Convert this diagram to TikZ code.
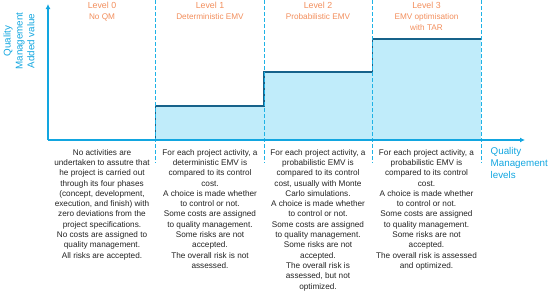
\documentclass[tikz,border=0pt]{standalone}
\usepackage{fontspec}
\setmainfont{Liberation Sans}
\usepackage{tikz}
\usetikzlibrary{positioning, arrows.meta}
\definecolor{qmcyan}{RGB}{18, 166, 224}
\definecolor{qmdash}{RGB}{30, 178, 230}
\definecolor{qmorange}{RGB}{242, 142, 92}
\definecolor{qmstep}{RGB}{22, 98, 138}
\definecolor{qmfill}{RGB}{192, 236, 250}
\definecolor{qmtext}{RGB}{35, 35, 35}

\tikzset{
    levelhead/.style={anchor=north, inner sep=0pt, align=center, text=qmorange, font=\fontsize{8.2}{11}\selectfont},
    leveltext/.style={anchor=north, inner sep=0pt, align=center, text=qmtext, font=\fontsize{8.2}{10.3}\selectfont},
    axislabel/.style={inner sep=0pt, text=qmcyan, font=\fontsize{9.8}{11.8}\selectfont},
    levelsep/.style={qmdash, line width=1pt, dash pattern=on 3.5pt off 2.5pt}
}

\begin{document}
\begin{tikzpicture}[x=1pt, y=-1pt]
    \useasboundingbox (0,0) rectangle (550,295);

    % Paliers de valeur ajoutee
    \fill[qmfill] (155.7,140) -- (155.7,106) -- (264,106) -- (264,72) -- (372.5,72) -- (372.5,39) -- (481,39) -- (481,140) -- cycle;
    \draw[qmstep, line width=1.4pt] (155.7,140) -- (155.7,106) -- (264,106) -- (264,72) -- (372.5,72) -- (372.5,39) -- (481,39);

    % Separations entre niveaux
    \foreach \x in {155.7,264,372.5,481} {
        \draw[levelsep] (\x,0) -- (\x,163);
    }

    % Axes
    \coordinate (O) at (48,140);
    \coordinate (ytop) at (48,4);
    \coordinate (xend) at (525,140);
    \draw[qmcyan, line width=1.7pt, -{Latex[length=5pt, width=5pt]}] (O) -- (ytop);
    \draw[qmcyan, line width=1.7pt, -{Latex[length=5pt, width=5pt]}] (O) -- (xend);
    \node[axislabel, rotate=90, align=center] (ylab) at (19,41) {Quality\\Management\\Added value};
    \node[axislabel, anchor=north west, align=left] (xlab) at (490.5,147.5) {Quality\\Management\\levels};

    % Titres des niveaux
    \foreach \i/\cx/\sub in {0/102/No QM, 1/210/Deterministic EMV, 2/318/Probabilistic EMV, 3/426.5/{EMV optimisation\\with TAR}} {
        \node[levelhead] (lvl\i) at (\cx,1.5) {{\fontsize{8.8}{11}\selectfont Level \i}\\\sub};
    }

    % Descriptions
    \node[leveltext] (body0) at (102,149) {No activities are\\undertaken to assutre that\\he project is carried out\\through its four phases\\(concept, development,\\execution, and finish) with\\zero deviations from the\\project specifications.\\No costs are assigned to\\quality management.\\All risks are accepted.};
    \node[leveltext] (body1) at (210,149) {For each project activity, a\\deterministic EMV is\\compared to its control\\cost.\\A choice is made whether\\to control or not.\\Some costs are assigned\\to quality management.\\Some risks are not\\accepted.\\The overall risk is not\\assessed.};
    \node[leveltext] (body2) at (318,149) {For each project activity, a\\probabilistic EMV is\\compared to its control\\cost, usually with Monte\\Carlo simulations.\\A choice is made whether\\to control or not.\\Some costs are assigned\\to quality management.\\Some risks are not\\accepted.\\The overall risk is\\assessed, but not\\optimized.};
    \node[leveltext] (body3) at (426.5,149) {For each project activity, a\\probabilistic EMV is\\compared to its control\\cost.\\A choice is made whether\\to control or not.\\Some costs are assigned\\to quality management.\\Some risks are not\\accepted.\\The overall risk is assessed\\and optimized.};
\end{tikzpicture}
\end{document}
